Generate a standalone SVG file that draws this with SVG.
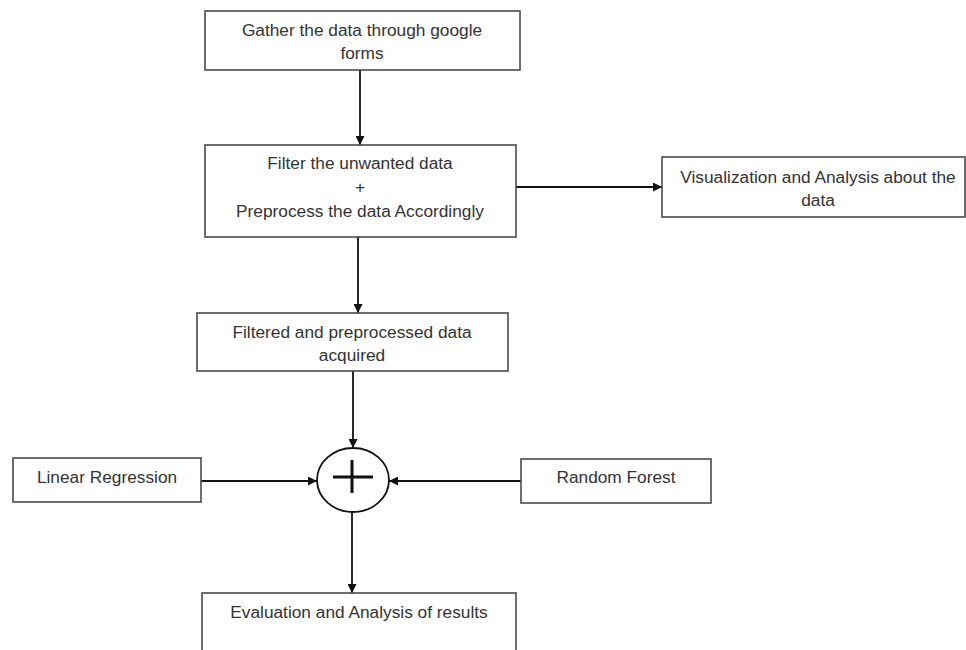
<svg xmlns="http://www.w3.org/2000/svg" width="966" height="650" viewBox="0 0 966 650">
<style>
.box{fill:#fff;stroke:#4a4a4a;stroke-width:1.6}
.t{font-family:"Liberation Sans",Arial,sans-serif;font-size:17.3px;fill:#333;text-anchor:middle}
.ln{stroke:#111;stroke-width:1.8;fill:none}
</style>
<defs>
<marker id="ah" viewBox="0 0 10 10" refX="10" refY="5" markerWidth="9" markerHeight="9" markerUnits="userSpaceOnUse" orient="auto">
<path d="M0,0 L10,5 L0,10 z" fill="#111"/>
</marker>
</defs>
<rect width="966" height="650" fill="#fff"/>
<g id="connectors">
<line class="ln" x1="360" y1="70" x2="360" y2="145" marker-end="url(#ah)"/>
<line class="ln" x1="358" y1="237" x2="358" y2="313" marker-end="url(#ah)"/>
<line class="ln" x1="516" y1="187" x2="662" y2="187" marker-end="url(#ah)"/>
<line class="ln" x1="353" y1="371" x2="353" y2="448" marker-end="url(#ah)"/>
<line class="ln" x1="201" y1="481" x2="317" y2="481" marker-end="url(#ah)"/>
<line class="ln" x1="521" y1="481" x2="389" y2="481" marker-end="url(#ah)"/>
<line class="ln" x1="352" y1="512" x2="352" y2="593" marker-end="url(#ah)"/>
</g>
<g id="gather">
<rect class="box" x="205" y="11" width="315" height="59"/>
<text class="t" x="362" y="36">Gather the data through google</text>
<text class="t" x="362" y="59">forms</text>
</g>
<g id="filter">
<rect class="box" x="205" y="145" width="311" height="92"/>
<text class="t" x="360" y="169">Filter the unwanted data</text>
<text class="t" x="360" y="193">+</text>
<text class="t" x="360" y="217">Preprocess the data Accordingly</text>
</g>
<g id="visual">
<rect class="box" x="662" y="157" width="303" height="60"/>
<text class="t" x="818" y="183">Visualization and Analysis about the</text>
<text class="t" x="818" y="206">data</text>
</g>
<g id="filtered">
<rect class="box" x="197" y="313" width="311" height="58"/>
<text class="t" x="352" y="338">Filtered and preprocessed data</text>
<text class="t" x="352" y="361">acquired</text>
</g>
<g id="sum">
<ellipse cx="353" cy="480" rx="36" ry="32" fill="#fff" stroke="#111" stroke-width="1.8"/>
<line x1="333" y1="477" x2="373" y2="477" stroke="#111" stroke-width="3"/>
<line x1="352" y1="460" x2="352" y2="493" stroke="#111" stroke-width="3"/>
</g>
<g id="linear">
<rect class="box" x="13" y="458" width="188" height="44"/>
<text class="t" x="107" y="483">Linear Regression</text>
</g>
<g id="forest">
<rect class="box" x="521" y="459" width="190" height="44"/>
<text class="t" x="616" y="483">Random Forest</text>
</g>
<g id="eval">
<rect class="box" x="202" y="593" width="314" height="70"/>
<text class="t" x="359" y="618">Evaluation and Analysis of results</text>
</g>
</svg>
